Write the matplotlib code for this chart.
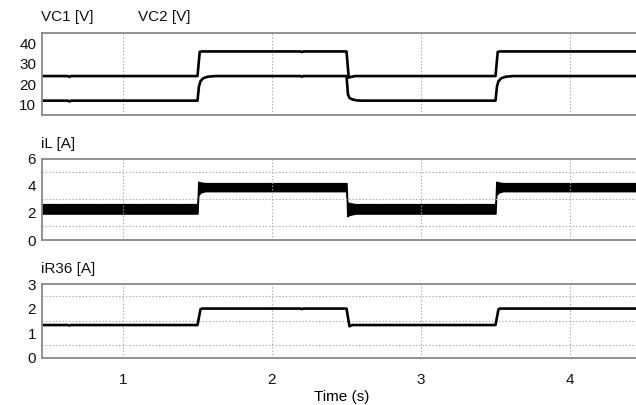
import matplotlib
matplotlib.use('Agg')
import matplotlib.pyplot as plt

plt.rcParams['font.family'] = ['Liberation Sans', 'DejaVu Sans']
plt.rcParams['font.size'] = 11

# --- data ---
# capacitor voltages (two traces)
t_vc1 = [0.45, 0.63, 0.64, 0.65, 1.50, 1.51, 1.52, 1.54, 1.57, 1.62, 2.19, 2.20, 2.21,
         2.50, 2.51, 2.52, 2.54, 2.57, 2.60, 3.50, 3.51, 3.52, 3.54, 3.57, 3.62, 4.50]
vc1 = [12.0, 12.0, 11.6, 12.0, 12.0, 19.0, 21.5, 23.0, 23.7, 24.0, 24.0, 23.7, 24.0,
       24.0, 15.0, 13.3, 12.6, 12.1, 12.0, 12.0, 19.0, 21.5, 23.0, 23.7, 24.0, 24.0]
t_vc2 = [0.45, 0.63, 0.64, 0.65, 1.50, 1.515, 1.53, 2.19, 2.20, 2.21,
         2.50, 2.515, 2.53, 2.56, 3.50, 3.515, 3.53, 4.50]
vc2 = [24.0, 24.0, 23.6, 24.0, 24.0, 35.8, 36.0, 36.0, 35.7, 36.0,
       36.0, 23.2, 23.6, 24.0, 24.0, 35.8, 36.0, 36.0]

# inductor current ripple envelope
t_il = [0.45, 1.50, 1.505, 1.52, 1.55, 2.50, 2.505, 2.52, 2.56, 3.50, 3.505, 3.52, 3.55, 4.50]
il_lo = [1.95, 1.95, 3.30, 3.50, 3.60, 3.60, 1.75, 1.85, 1.95, 1.95, 3.30, 3.50, 3.60, 3.60]
il_hi = [2.65, 2.65, 4.30, 4.25, 4.20, 4.20, 2.80, 2.72, 2.65, 2.65, 4.30, 4.25, 4.20, 4.20]

# load current
t_ir = [0.45, 0.63, 0.64, 0.65, 1.50, 1.52, 1.53, 2.19, 2.20, 2.21,
        2.50, 2.52, 2.54, 3.50, 3.52, 3.53, 4.50]
ir36 = [1.33, 1.33, 1.31, 1.33, 1.33, 1.97, 2.00, 2.00, 1.98, 2.00,
        2.00, 1.28, 1.33, 1.33, 1.97, 2.00, 2.00]

xticks = [1, 2, 3, 4]

W, H = 636, 405
fig = plt.figure(figsize=(W / 100, H / 100), dpi=100)


def add_panel(top, bottom, ylim, yticks, grid_y):
    left, right = 41.7, 642
    ax = fig.add_axes([left / W, 1 - bottom / H, (right - left) / W, (bottom - top) / H])
    ax.set_xlim(1 - (123 - left) / 149, 1 + (right - 123) / 149)
    ax.set_ylim(*ylim)
    ax.set_yticks(yticks)
    ax.set_yticks(grid_y, minor=True)
    ax.set_xticks(xticks)
    ax.tick_params(length=0, pad=4, labelsize=11, colors='#111111')
    ax.tick_params(which='minor', length=0)
    ax.grid(True, which='minor', axis='y', linestyle=(0, (1.2, 1.8)), color='#a8a8a8', lw=0.8)
    ax.grid(True, which='major', axis='x', linestyle=(0, (1.2, 1.8)), color='#a8a8a8', lw=0.8)
    for s in ax.spines.values():
        s.set_color('#888888')
        s.set_linewidth(1.3)
    return ax


ax1 = add_panel(33, 115, (5, 45), [10, 20, 30, 40], [10, 20, 30, 40])
ax1.plot(t_vc1, vc1, color='black', lw=1.9)
ax1.plot(t_vc2, vc2, color='black', lw=1.9)
ax1.set_xticklabels([])

ax2 = add_panel(158.7, 240, (0, 6), [0, 2, 4, 6], [1, 2, 3, 4, 5])
ax2.fill_between(t_il, il_lo, il_hi, color='black', lw=1)
ax2.set_xticklabels([])

ax3 = add_panel(284, 357.7, (0, 3), [0, 1, 2, 3], [0.5, 1, 1.5, 2, 2.5])
ax3.plot(t_ir, ir36, color='black', lw=1.9)
ax3.tick_params(axis='x', pad=11)
ax3.set_xlabel('Time (s)', fontsize=11, labelpad=2)


def label(x, y, s):
    fig.text(x / W, 1 - y / H, s, ha='left', va='center', fontsize=11, color='#111111')


label(41, 17, 'VC1 [V]')
label(138, 17, 'VC2 [V]')
label(41, 144, 'iL [A]')
label(41, 269, 'iR36 [A]')

fig.savefig('out.png', dpi=100)
